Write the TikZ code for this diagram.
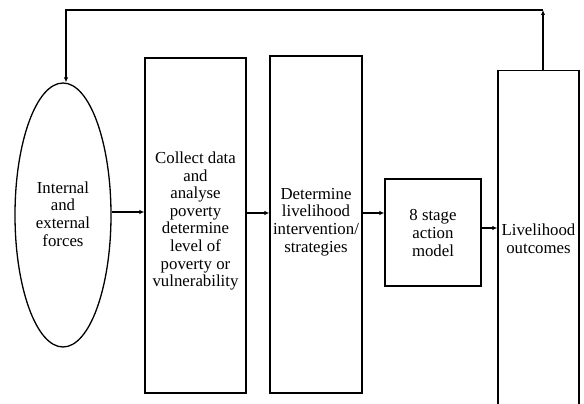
\documentclass[tikz,border=0pt]{standalone}
\usepackage{fontspec}
\setmainfont{Liberation Serif}
\usetikzlibrary{shapes.geometric,arrows.meta}
\begin{document}
\begin{tikzpicture}[x=1pt,y=-1pt,
  box/.style={draw,line width=1.3pt,rectangle,inner sep=0pt},
  txt/.style={align=center,inner sep=0pt,font=\fontsize{16.8}{17.6}\selectfont},
  arr/.style={line width=1.3pt,-{Latex[length=5pt,width=4.5pt]}}]
\clip (0,0) rectangle (584,404);
\node[draw,line width=1.3pt,ellipse,inner sep=0pt,minimum width=96pt,minimum height=264pt] (ell) at (63,215) {};
\node[txt] (ellt) at (63,214) {Internal\\and\\external\\forces};
\node[box,minimum width=101pt,minimum height=335pt] (b1) at (195.5,225.5) {};
\node[txt] (b1t) at (195.5,221) {Collect data\\and\\analyse\\poverty\\determine\\level of\\poverty or\\vulnerability};
\node[box,minimum width=92pt,minimum height=337pt] (b2) at (316,224.5) {};
\node[txt] (b2t) at (316,222) {Determine\\livelihood\\intervention/\\strategies};
\node[box,minimum width=96pt,minimum height=107pt] (b3) at (433,232.5) {};
\node[txt] (b3t) at (433,233) {8 stage\\action\\model};
\node[box,minimum width=81pt,minimum height=350pt,anchor=north] (b5) at (538.5,70) {};
\node[txt] (b5t) at (538.5,239) {Livelihood\\outcomes};
\coordinate (tr) at (543,10);
\coordinate (tl) at (66,10);
\coordinate (b5top) at (543,70);
\draw[arr] (ell.east |- 0,212) -- (b1.west |- 0,212);
\draw[arr] (b1.east |- 0,213) -- (b2.west |- 0,213);
\draw[arr] (b2.east |- 0,213) -- (b3.west |- 0,213);
\draw[arr] (b3.east |- 0,228) -- (b5.west |- 0,228);
\draw[arr] (b5top) -- (tr);
\draw[arr] (tr) -- (tl) -- (ell.north -| tl);
\end{tikzpicture}
\end{document}
